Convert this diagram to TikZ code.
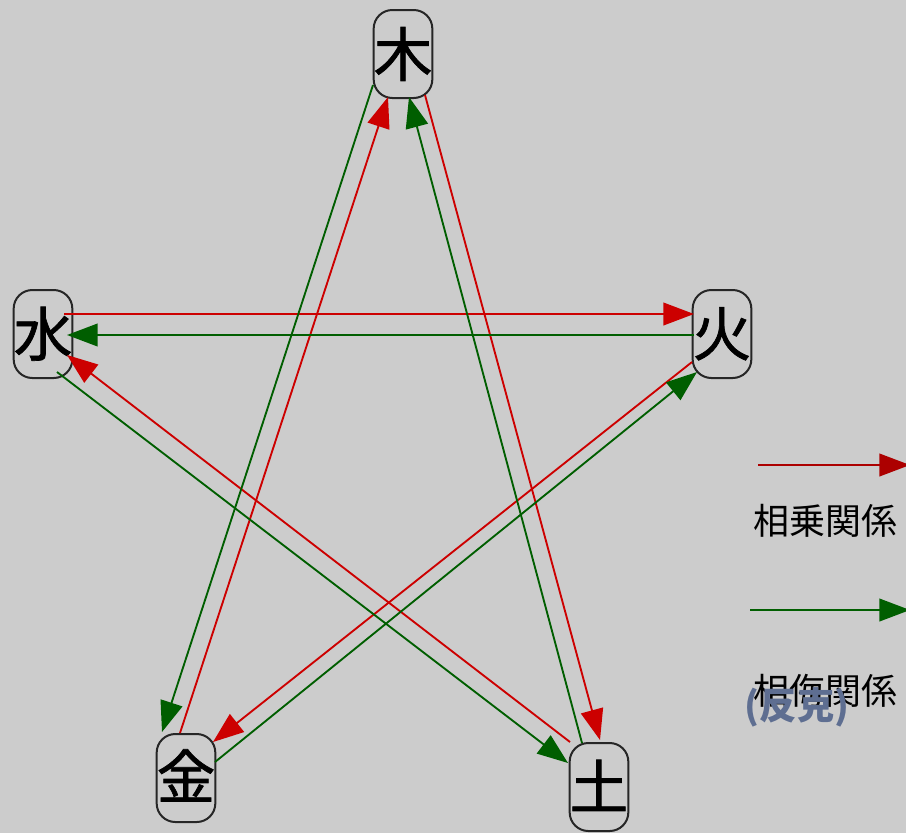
\documentclass[tikz,border=0pt]{standalone}
\usepackage{fontspec}
\setmainfont{Noto Sans CJK JP}
\newfontfamily\elemfont[FakeBold=1.2]{Noto Sans CJK JP}
\usetikzlibrary{arrows.meta,calc}
\definecolor{bg}{RGB}{204,204,204}
\definecolor{shengred}{RGB}{204,0,0}
\definecolor{shengdark}{RGB}{172,0,0}
\definecolor{wugreen}{RGB}{0,94,0}
\definecolor{fanke}{RGB}{94,110,145}

\begin{document}
\begin{tikzpicture}[x=0.75pt,y=-0.75pt,>={Triangle[length=23pt,width=17pt]},
    elem/.style={draw=black!85,line width=1.5pt,rounded corners=14pt,
      minimum width=43pt,minimum height=66pt,inner sep=0pt,
      font=\elemfont\fontsize{44}{44}\selectfont},
    sheng/.style={->,line width=1.4pt,color=shengred},
    wu/.style={->,line width=1.4pt,color=wugreen},
    legend/.style={font=\fontsize{27}{27}\selectfont}]
    \fill[bg] (0,0) rectangle (906,833);
    \useasboundingbox (0,0) rectangle (906,833);
    % the five elements
    \node[elem] (mu) at (403,54) {\raisebox{3pt}{木}};
    \node[elem] (huo) at (722,334) {\raisebox{4pt}{火}};
    \node[elem] (tu) at (599,787) {\raisebox{4pt}{土}};
    \node[elem] (jin) at (186,778) {\raisebox{6pt}{金}};
    \node[elem] (shui) at (43,334) {\raisebox{4pt}{水}};
    % overcoming in excess
    \draw[sheng] ($(mu.center)+(22,41)$) -- ($(tu.center)+(1,-47)$);
    \draw[sheng] ($(tu.center)+(-29,-45)$) -- ($(shui.center)+(24,21)$);
    \draw[sheng] ($(shui.center)+(21,-20)$) -- ($(huo.center)+(-28,-20)$);
    \draw[sheng] ($(huo.center)+(-30,28)$) -- ($(jin.center)+(27,-36)$);
    \draw[sheng] ($(jin.center)+(-6,-45)$) -- ($(mu.center)+(-15,43)$);
    % reverse overcoming
    \draw[wu] ($(mu.center)+(-30,31)$) -- ($(jin.center)+(-24,-46)$);
    \draw[wu] ($(jin.center)+(29,-16)$) -- ($(huo.center)+(-25,38)$);
    \draw[wu] ($(huo.center)+(-28,1)$) -- ($(shui.center)+(24,1)$);
    \draw[wu] ($(shui.center)+(14,38)$) -- ($(tu.center)+(-31,-24)$);
    \draw[wu] ($(tu.center)+(-17,-44)$) -- ($(mu.center)+(6,43)$);
    % legend
    \coordinate (r1) at (758,465);
    \coordinate (r2) at (910,465);
    \coordinate (g1) at (750,610);
    \coordinate (g2) at (910,610);
    \draw[sheng,color=shengdark] (r1) -- (r2);
    \draw[wu] (g1) -- (g2);
    \node[legend] (lsheng) at (825,521) {相乗関係};
    \node[legend] (lwu) at (825,691) {相侮関係};
    \node[legend,text=fanke,font=\bfseries\fontsize{28}{28}\selectfont] (lfanke) at (797,707) {(反克)};
\end{tikzpicture}
\end{document}
